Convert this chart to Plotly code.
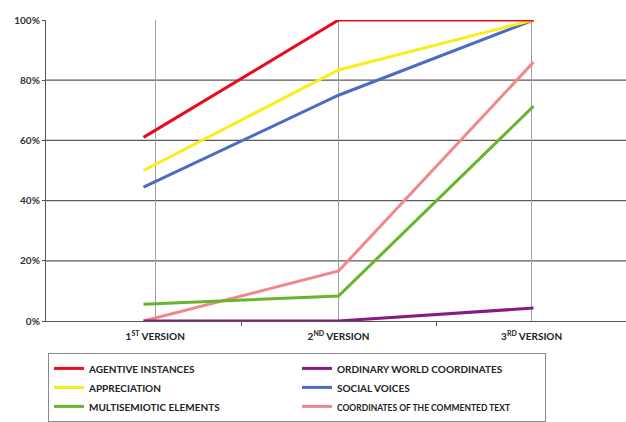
import plotly.graph_objects as go

categories = ["1<sup>ST</sup> VERSION", "2<sup>ND</sup> VERSION", "3<sup>RD</sup> VERSION"]
category_index = [0, 1, 2]
label_positions = [0.06, 1, 1.99]
series_names = [
    "AGENTIVE INSTANCES",
    "ORDINARY WORLD COORDINATES",
    "APPRECIATION",
    "SOCIAL VOICES",
    "MULTISEMIOTIC ELEMENTS",
    "COORDINATES OF THE COMMENTED TEXT",
]
name_sizes = [10, 10, 10, 10, 10, 8.5]
agentive = [61, 100, 100]
ordinary = [0, 0, 4.3]
appreciation = [50, 83.4, 100]
social = [44.5, 75, 100]
multisemiotic = [5.6, 8.3, 71.4]
commented = [0, 16.6, 86]
series_values = [agentive, ordinary, appreciation, social, multisemiotic, commented]
colors = ["#ea0a1e", "#8a1a83", "#f7ee1a", "#4a6cc2", "#67b52c", "#f2878b"]
y_ticks = [0, 20, 40, 60, 80, 100]
y_ticktext = [f"{v}%" for v in y_ticks]

fig = go.Figure()
order = [5, 4, 3, 2, 0, 1]
for i in order:
    fig.add_trace(go.Scatter(
        x=category_index, y=series_values[i], mode="lines",
        name=f"<span style='font-size:{name_sizes[i]}px'>{series_names[i]}</span>",
        line=dict(color=colors[i], width=3), legendrank=i + 1,
    ))

for v in [20, 40, 60, 80]:
    fig.add_shape(type="line", xref="paper", yref="y", x0=0, x1=1, y0=v, y1=v,
                  line=dict(color="#5a5a5a", width=1.3), layer="below")

fig.update_layout(
    width=626, height=422,
    margin=dict(l=46, r=0, t=20, b=101),
    paper_bgcolor="white", plot_bgcolor="white",
    font=dict(family="Lato", size=10, color="#333333", weight="bold"),
    showlegend=True,
    legend=dict(
        orientation="h", x=0.0034, xanchor="left", y=-0.106, yanchor="top",
        entrywidth=203, entrywidthmode="pixels",
        bordercolor="#8a8a8a", borderwidth=1, bgcolor="white",
        font=dict(family="Lato", size=11, color="#222222", weight="bold"),
        traceorder="normal", itemwidth=30,
    ),
    xaxis=dict(
        range=[-0.5, 2.474], tickvals=label_positions, ticktext=categories,
        ticks="", ticklabelstandoff=6,
        showgrid=True, gridcolor="#a0a0a0", gridwidth=1, zeroline=False,
        minor=dict(tickvals=[0.5, 1.5], ticks="outside", ticklen=4, tickcolor="#555555", showgrid=False),
        showline=True, linecolor="#555555", linewidth=1.3,
        tickfont=dict(family="Lato", size=10, color="#222222", weight="bold"),
    ),
    yaxis=dict(
        range=[0, 100], tickvals=y_ticks, ticktext=y_ticktext,
        ticks="outside", ticklen=3, tickcolor="#555555",
        showgrid=False, zeroline=False, showline=True, linecolor="#555555", linewidth=1.3,
        tickfont=dict(family="Lato", size=10, color="#333333", weight="bold"),
    ),
)

fig.write_html("out.html")
